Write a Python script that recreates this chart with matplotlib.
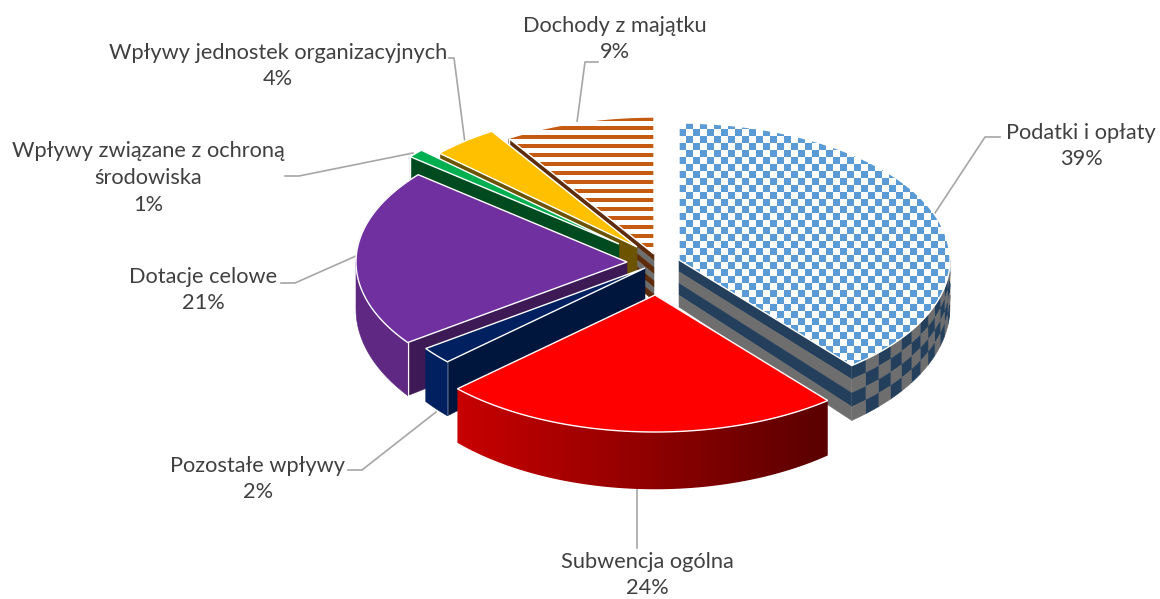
import numpy as np
import matplotlib
matplotlib.use('Agg')
import matplotlib.pyplot as plt
from matplotlib.colors import ListedColormap, LinearSegmentedColormap
from matplotlib.patches import Polygon

names = ['Podatki i opłaty', 'Subwencja ogólna', 'Pozostałe wpływy', 'Dotacje celowe',
         'Wpływy związane z ochroną\nśrodowiska', 'Wpływy jednostek organizacyjnych', 'Dochody z majątku']
values = [39, 24, 2, 21, 1, 4, 9]

# layout, pixels of the 1160x599 picture
apex = [(679, 260), (655, 295), (645, 268), (627, 262), (619, 244), (637, 247), (654, 254)]
rx, ry = 271, 137
label_pos = [(1081, 146), (647, 575), (258, 479), (203, 290), (148, 178), (278, 66), (615, 39)]
leaders = [[(935, 213), (985, 137), (1000, 137)],
           [(637, 487), (637, 548)],
           [(436, 412), (362, 470), (348, 470)],
           [(356, 256), (295, 283), (281, 283)],
           [(413, 153), (299, 176), (285, 176)],
           [(465, 143), (454, 58), (449, 58)],
           [(577, 122), (585, 62), (598, 62)]]

top_col = ['#5b9bd5', '#ff0000', '#002060', '#7030a0', '#00b050', '#ffc000', '#c55a11']
cut_col = ['#243f5c', '#7f0000', '#00163d', '#3d1a56', '#004a20', '#6b5300', '#5f2c0b']
rim_col = ['#243f5c', '#c00000', '#002060', '#5f2882', '#004a20', '#6b5300', '#5f2c0b']
GREY = '#6e6e6e'

fig = plt.figure(figsize=(11.6, 5.99), dpi=100)
ax = fig.add_axes([0, 0, 1, 1])
ax.axis('off')


def top(a, th):
    t = np.radians(th)
    return a[0] + rx * np.sin(t), a[1] - ry * np.cos(t)


def height(dy):
    # front of the pie is a bit thicker (perspective)
    return 47 + 0.075 * dy


def low(a, th, f=1.0):
    x, y = top(a, th)
    return x, y + f * height(y - a[1])


def down(a, p, f=1.0):
    return p[0], p[1] + f * height(p[1] - a[1])


def poly(pts, fc, z, lw=0.4):
    ax.add_patch(Polygon(pts, closed=True, facecolor=fc, edgecolor=fc, linewidth=lw, zorder=z))


def clipped_image(pat, cmap, pts, z):
    xs = np.array([p[0] for p in pts])
    ys = np.array([p[1] for p in pts])
    x0, x1, y0, y1 = int(xs.min()) - 1, int(xs.max()) + 2, int(ys.min()) - 1, int(ys.max()) + 2
    yy, xx = np.mgrid[y0:y1, x0:x1]
    im = ax.imshow(pat(xx, yy), cmap=cmap, vmin=0, vmax=1, extent=(x0, x1, y1, y0),
                   interpolation='antialiased', aspect='auto', zorder=z)
    clip = Polygon(pts, closed=True, transform=ax.transData, facecolor='none', edgecolor='none')
    ax.add_patch(clip)
    im.set_clip_path(clip)


def cut_face(i, th, z):
    a = apex[i]
    outer = top(a, th)
    if i == 0 or i == 6:
        # striped sides
        nb = 4 if i == 0 else 7
        for b in range(nb):
            f0, f1 = b / nb, (b + 1) / nb
            pts = [down(a, a, f0), down(a, outer, f0), down(a, outer, f1), down(a, a, f1)]
            poly(pts, cut_col[i] if b % 2 == 0 else GREY, z)
    else:
        poly([a, outer, down(a, outer), down(a, a)], cut_col[i], z)
    ax.plot([outer[0], outer[0]], [outer[1], down(a, outer)[1]], color='white', lw=1, zorder=z + 0.1)


def rim(i, th0, th1, z):
    a = apex[i]
    if i == 0:
        # checker on the rim of the blue slice
        nc, nr = 13, 4
        ths = np.linspace(th0, th1, nc + 1)
        for c in range(nc):
            for r in range(nr):
                col = cut_col[0] if (c + r) % 2 == 0 else GREY
                arc = np.linspace(ths[c], ths[c + 1], 4)
                up = [low(a, t, r / nr) for t in arc]
                lo = [low(a, t, (r + 1) / nr) for t in arc[::-1]]
                poly(up + lo, col, z)
    elif i == 1:
        # red rim gets darker to the right
        arc = np.linspace(th0, th1, 90)
        pts = [top(a, t) for t in arc] + [low(a, t) for t in arc[::-1]]
        x_left, x_right = top(a, th1)[0], top(a, th0)[0]
        grad = LinearSegmentedColormap.from_list('rim', ['#c80000', '#5a0000'])
        clipped_image(lambda xx, yy: (xx - x_left) / (x_right - x_left), grad, pts, z)
    else:
        arc = np.linspace(th0, th1, 60)
        poly([top(a, t) for t in arc] + [low(a, t) for t in arc[::-1]], rim_col[i], z)


def top_face(i, th0, th1, z):
    a = apex[i]
    arc = np.linspace(th0, th1, max(int(th1 - th0) * 2, 4))
    pts = [a] + [top(a, t) for t in arc]
    if i == 0:
        clipped_image(lambda xx, yy: (((xx - a[0]) // 7) + ((yy - 122) // 7)) % 2,
                      ListedColormap(['white', top_col[i]]), pts, z)
    elif i == 6:
        clipped_image(lambda xx, yy: ((yy - 117) % 9 < 4).astype(int),
                      ListedColormap(['white', top_col[i]]), pts, z)
    else:
        poly(pts, top_col[i], z)
    ax.add_patch(Polygon(pts, closed=True, facecolor='none', edgecolor='white', linewidth=1, zorder=z + 0.1))


# angles clockwise from the top
edges = 3.6 * np.cumsum([0] + values)

# back slices first, red one last
order = [6, 5, 4, 3, 2, 0, 1]
z = 2
for i in order:
    th0, th1 = edges[i], edges[i + 1]
    s0, s1 = np.sin(np.radians(th0)), np.sin(np.radians(th1))
    if s1 > 0.01:
        cut_face(i, th1, z)
    if s0 < -0.01:
        cut_face(i, th0, z)
    if max(th0, 90) < min(th1, 270):
        rim(i, max(th0, 90), min(th1, 270), z + 0.2)
    top_face(i, th0, th1, z + 0.4)
    z += 1

for pts in leaders:
    ax.plot([p[0] for p in pts], [p[1] for p in pts], color='#a6a6a6', lw=1.2, zorder=1)

for n, v, (x, y) in zip(names, values, label_pos):
    ax.text(x, y, f'{n}\n{v}%', ha='center', va='center', fontsize=15.7, family='Lato',
            color='#404040', linespacing=1.43, zorder=20)

ax.set_xlim(0, 1160)
ax.set_ylim(599, 0)
fig.savefig('out.png', dpi=100)
